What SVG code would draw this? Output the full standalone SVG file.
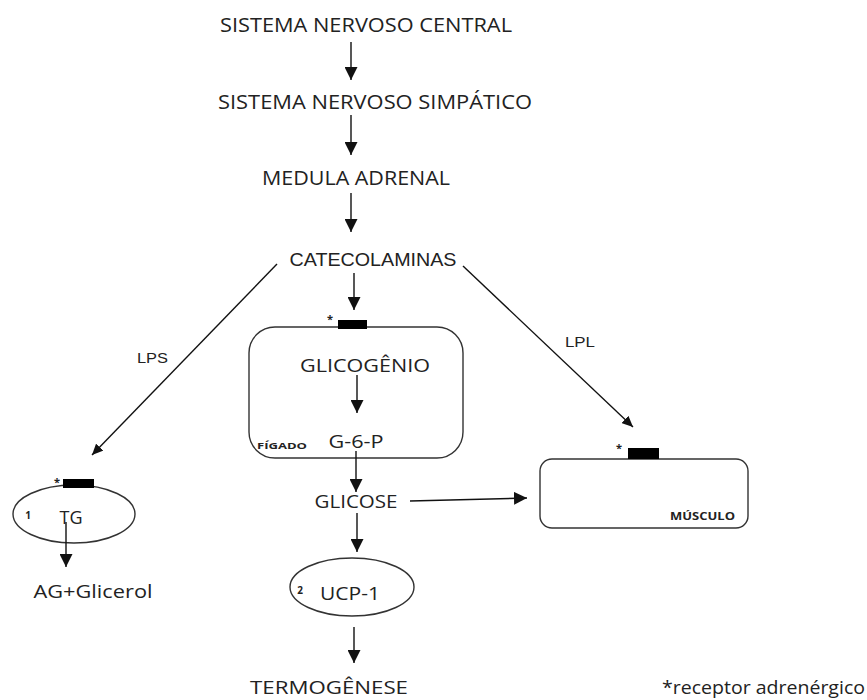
<svg xmlns="http://www.w3.org/2000/svg" width="867" height="700" viewBox="0 0 867 700">
<defs>
<marker id="ah" markerUnits="userSpaceOnUse" markerWidth="13" markerHeight="13" refX="13" refY="6.5" orient="auto" viewBox="0 0 13 13"><path d="M0,0 L13,6.5 L0,13 z" fill="#111"/></marker>
<marker id="ahs" markerUnits="userSpaceOnUse" markerWidth="11" markerHeight="10" refX="11" refY="5" orient="auto" viewBox="0 0 11 10"><path d="M0,0 L11,5 L0,10 z" fill="#111"/></marker>
</defs>
<style>
.c{font-family:"Open Sans",Lato,"Liberation Sans",sans-serif;fill:#222;}
.a{font-family:"Liberation Sans",Arial,sans-serif;fill:#222;}
.b{font-family:"Open Sans","Liberation Sans",sans-serif;font-weight:bold;fill:#222;}
.ln{stroke:#111;stroke-width:1.4;fill:none;}
.box{stroke:#333;stroke-width:1.4;fill:none;}
.rec{fill:#000;}
</style>
<rect width="867" height="700" fill="#fff"/>
<g id="snc"><text class="c" x="366" y="32" font-size="20" text-anchor="middle" textLength="292" lengthAdjust="spacingAndGlyphs">SISTEMA NERVOSO CENTRAL</text></g>
<g id="sns"><text class="c" x="375" y="109" font-size="20" text-anchor="middle" textLength="314" lengthAdjust="spacingAndGlyphs">SISTEMA NERVOSO SIMPÁTICO</text></g>
<g id="medula"><text class="c" x="356" y="185" font-size="20" text-anchor="middle" textLength="188" lengthAdjust="spacingAndGlyphs">MEDULA ADRENAL</text></g>
<g id="catecolaminas"><text class="a" x="373" y="266" font-size="18" text-anchor="middle" textLength="167" lengthAdjust="spacingAndGlyphs">CATECOLAMINAS</text></g>
<g id="figado">
<rect class="box" x="249" y="327" width="214" height="131" rx="26"/>
<rect class="rec" x="338" y="320" width="29" height="9"/>
<text class="b" x="330" y="323" font-size="11" text-anchor="middle">*</text>
<text class="c" x="365" y="372" font-size="19" text-anchor="middle" textLength="130" lengthAdjust="spacingAndGlyphs">GLICOGÊNIO</text>
<text class="c" x="356" y="448" font-size="19" text-anchor="middle" textLength="55" lengthAdjust="spacingAndGlyphs">G-6-P</text>
<text class="b" x="257" y="449" font-size="9.5" textLength="50" lengthAdjust="spacingAndGlyphs">FÍGADO</text>
</g>
<g id="glicose"><text class="c" x="356" y="508" font-size="19" text-anchor="middle" textLength="83" lengthAdjust="spacingAndGlyphs">GLICOSE</text></g>
<g id="ucp1">
<ellipse class="box" cx="352" cy="587" rx="62" ry="29"/>
<text class="b" x="300" y="594" font-size="10" text-anchor="middle">2</text>
<text class="c" x="350" y="600" font-size="19" text-anchor="middle" textLength="60" lengthAdjust="spacingAndGlyphs">UCP-1</text>
</g>
<g id="termogenese"><text class="c" x="329" y="694" font-size="18" text-anchor="middle" textLength="158" lengthAdjust="spacingAndGlyphs">TERMOGÊNESE</text></g>
<g id="tg">
<ellipse class="box" cx="74" cy="514" rx="61" ry="29"/>
<rect class="rec" x="63" y="479" width="31" height="9"/>
<text class="b" x="57" y="486" font-size="11" text-anchor="middle">*</text>
<text class="b" x="28" y="519" font-size="10" text-anchor="middle">1</text>
<text class="c" x="71" y="524" font-size="19" text-anchor="middle" textLength="23" lengthAdjust="spacingAndGlyphs">TG</text>
</g>
<g id="agglicerol"><text class="c" x="93" y="598" font-size="19" text-anchor="middle" textLength="119" lengthAdjust="spacingAndGlyphs">AG+Glicerol</text></g>
<g id="musculo">
<rect class="box" x="540" y="459" width="208" height="69" rx="12"/>
<rect class="rec" x="628" y="448" width="31" height="11"/>
<text class="b" x="619" y="452" font-size="11" text-anchor="middle">*</text>
<text class="b" x="735" y="520" font-size="10" text-anchor="end" textLength="65" lengthAdjust="spacingAndGlyphs">MÚSCULO</text>
</g>
<g id="legenda"><text class="c" x="662" y="694" font-size="18" textLength="203" lengthAdjust="spacingAndGlyphs">*receptor adrenérgico</text></g>
<g id="connectors">
<line class="ln" x1="351" y1="42" x2="351" y2="80" marker-end="url(#ah)"/>
<line class="ln" x1="351" y1="115" x2="351" y2="155" marker-end="url(#ah)"/>
<line class="ln" x1="351" y1="193" x2="351" y2="232" marker-end="url(#ah)"/>
<line class="ln" x1="354" y1="273" x2="354" y2="310" marker-end="url(#ah)"/>
<line class="ln" x1="357" y1="375" x2="357" y2="413" marker-end="url(#ah)"/>
<line class="ln" x1="356" y1="451" x2="356" y2="492" marker-end="url(#ah)"/>
<line class="ln" x1="410" y1="501" x2="527" y2="498" marker-end="url(#ah)"/>
<line class="ln" x1="357" y1="513" x2="357" y2="552" marker-end="url(#ah)"/>
<line class="ln" x1="354" y1="627" x2="354" y2="663" marker-end="url(#ah)"/>
<line class="ln" x1="66" y1="522" x2="66" y2="567" marker-end="url(#ah)"/>
<line class="ln" x1="277" y1="264" x2="92" y2="455" marker-end="url(#ahs)"/>
<line class="ln" x1="463" y1="266" x2="633" y2="427" marker-end="url(#ahs)"/>
<text class="a" x="137" y="363" font-size="14" textLength="31" lengthAdjust="spacingAndGlyphs">LPS</text>
<text class="a" x="565" y="347" font-size="14" textLength="30" lengthAdjust="spacingAndGlyphs">LPL</text>
</g>
</svg>
